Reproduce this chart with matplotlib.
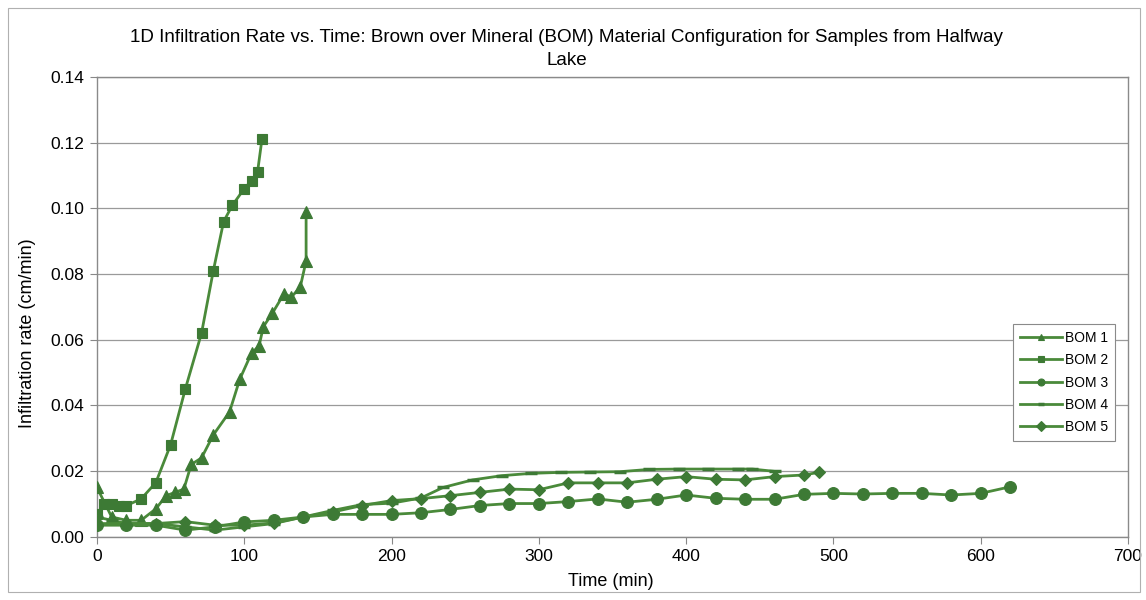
import matplotlib
matplotlib.use("Agg")
import matplotlib.pyplot as plt
from matplotlib.patches import Rectangle

plt.rcParams['font.family'] = ['Liberation Sans', 'DejaVu Sans']

title = "1D Infiltration Rate vs. Time: Brown over Mineral (BOM) Material Configuration for Samples from Halfway\nLake"
xlabel = "Time (min)"
ylabel = "Infiltration rate (cm/min)"

bom1_t = [0, 10, 20, 30, 40, 47, 53, 59, 64, 71, 79, 90, 97, 105, 110, 113, 119, 127, 132, 138, 142, 142]
bom1_v = [0.015, 0.006, 0.005, 0.005, 0.0085, 0.0125, 0.0135, 0.0145, 0.022, 0.024, 0.031, 0.038,
          0.048, 0.056, 0.058, 0.064, 0.068, 0.074, 0.073, 0.076, 0.084, 0.099]

bom2_t = [0, 5, 10, 15, 20, 30, 40, 50, 60, 71, 79, 86, 92, 100, 105, 109, 112]
bom2_v = [0.007, 0.01, 0.01, 0.0095, 0.0095, 0.0115, 0.0165, 0.028, 0.045, 0.062, 0.081, 0.096,
          0.101, 0.106, 0.1085, 0.111, 0.121]

bom3_t = [0, 20, 40, 60, 80, 100, 120, 140, 160, 180, 200, 220, 240, 260, 280, 300, 320, 340,
          360, 380, 400, 420, 440, 460, 480, 500, 520, 540, 560, 580, 600, 620]
bom3_v = [0.0035, 0.0035, 0.0035, 0.002, 0.003, 0.0045, 0.005, 0.006, 0.0068, 0.0068, 0.0068,
          0.0073, 0.0083, 0.0095, 0.0101, 0.0101, 0.0107, 0.0115, 0.0105, 0.0114, 0.0127, 0.0117,
          0.0114, 0.0114, 0.0129, 0.0132, 0.013, 0.0132, 0.0132, 0.0127, 0.0132, 0.0152]

bom4_t = [0, 10, 20, 40, 60, 80, 100, 120, 140, 160, 180, 200, 220, 235, 255, 275, 295, 315,
          335, 355, 375, 395, 415, 435, 445, 460]
bom4_v = [0.006, 0.005, 0.004, 0.004, 0.003, 0.002, 0.003, 0.004, 0.006, 0.008, 0.0098, 0.0102,
          0.0118, 0.015, 0.0173, 0.0186, 0.0193, 0.0196, 0.0197, 0.0198, 0.0205, 0.0206, 0.0206,
          0.0206, 0.0206, 0.0199]

bom5_t = [0, 20, 40, 60, 80, 100, 120, 140, 160, 180, 200, 220, 240, 260, 280, 300, 320, 340,
          360, 380, 400, 420, 440, 460, 480, 490]
bom5_v = [0.004, 0.004, 0.004, 0.0046, 0.0035, 0.0035, 0.0042, 0.006, 0.0075, 0.0095, 0.011,
          0.0116, 0.0125, 0.0135, 0.0145, 0.0143, 0.0164, 0.0164, 0.0164, 0.0175, 0.0183, 0.0175,
          0.0173, 0.0183, 0.0188, 0.0196]

series = [
    ("BOM 1", bom1_t, bom1_v, "^", 9),
    ("BOM 2", bom2_t, bom2_v, "s", 7.5),
    ("BOM 3", bom3_t, bom3_v, "o", 8.5),
    ("BOM 4", bom4_t, bom4_v, "_", 9),
    ("BOM 5", bom5_t, bom5_v, "D", 6.5),
]

xticks = [0, 100, 200, 300, 400, 500, 600, 700]
yticks = [0.00, 0.02, 0.04, 0.06, 0.08, 0.10, 0.12, 0.14]

line_color = "#4a8a3a"
mk_color = "#3d7a35"

fig = plt.figure(figsize=(11.46, 6.0), dpi=100)
fig.add_artist(Rectangle((8 / 1146, 8 / 600), 1132 / 1146, 584 / 600, transform=fig.transFigure,
                         fill=False, edgecolor="#b0b0b0", lw=0.8))
ax = fig.add_axes([0.0846, 0.1055, 0.8997, 0.766])

for label, t, v, m, ms in series:
    ax.plot(t, v, color=line_color, lw=2.0, marker=m, markersize=ms,
            markerfacecolor=mk_color, markeredgecolor=mk_color,
            markeredgewidth=2.5 if m == "_" else 0.8, label=label, zorder=3)

ax.set_xlim(0, 700)
ax.set_ylim(0, 0.14)
ax.set_xticks(xticks)
ax.set_yticks(yticks)
ax.set_yticklabels([f"{y:.2f}" for y in yticks])
ax.tick_params(labelsize=12.5, length=5, color="#888888", direction="out", pad=4)
ax.grid(axis="y", color="#9a9a9a", lw=0.9)
ax.set_axisbelow(True)
for s in ax.spines.values():
    s.set_color("#8a8a8a")
    s.set_linewidth(1.0)

fig.text(611 / 1146, 1 - 581 / 600, xlabel, fontsize=13, ha="center", va="center")
fig.text(28 / 1146, 1 - 333 / 600, ylabel, fontsize=13, ha="center", va="center", rotation=90)
fig.text(567 / 1146, 1 - 49 / 600, title, fontsize=13.6, ha="center", va="center",
         linespacing=1.45)

leg = ax.legend(loc="upper right", bbox_to_anchor=(0.9874, 0.4627), fontsize=10,
                frameon=True, fancybox=False, edgecolor="#8a8a8a", framealpha=1,
                handlelength=3.0, borderpad=0.5, labelspacing=0.6, handletextpad=0.2,
                borderaxespad=0)
leg.get_frame().set_linewidth(0.8)
for h in leg.get_lines():
    h.set_markersize(5)

fig.savefig("out.png", dpi=100)
